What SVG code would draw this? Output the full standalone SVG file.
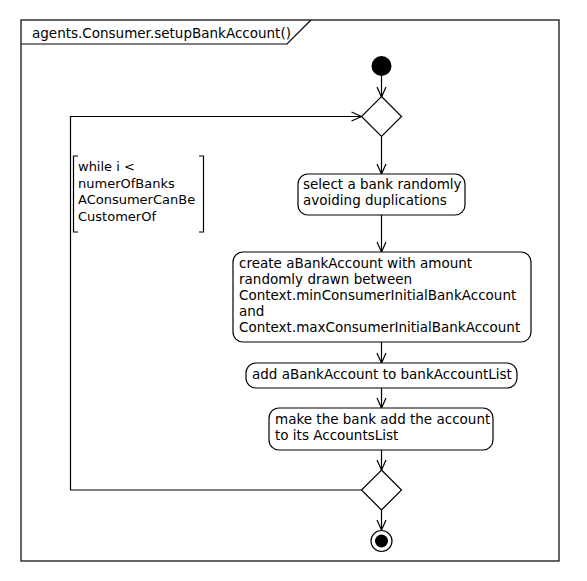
<svg xmlns="http://www.w3.org/2000/svg" width="587" height="581" viewBox="0 0 587 581">
<defs>
<style>
text{font-family:"DejaVu Sans","Liberation Sans",sans-serif;font-size:13.5px;fill:#000}
.g{font-size:13px}
.ln{fill:none;stroke:#000;stroke-width:1.2}
.box{fill:#fff;stroke:#000;stroke-width:1.2}
.edge{fill:none;stroke:#000;stroke-width:1.2;marker-end:url(#arr)}
</style>
<marker id="arr" markerUnits="userSpaceOnUse" markerWidth="12" markerHeight="12" refX="10" refY="5" orient="auto" overflow="visible">
<path d="M0,0.5 L10,5 L0,9.5" fill="none" stroke="#000" stroke-width="1.2"/>
</marker>
</defs>
<rect width="587" height="581" fill="#fff"/>
<g id="frame">
<rect class="ln" x="21" y="20" width="538" height="541"/>
<polyline class="ln" points="21,44 287,44 311,20"/>
<text x="32" y="38">agents.Consumer.setupBankAccount()</text>
</g>
<g id="connectors">
<line class="edge" x1="381.5" y1="76" x2="381.5" y2="97"/>
<line class="edge" x1="381.5" y1="137" x2="381.5" y2="174"/>
<line class="edge" x1="381.5" y1="215" x2="381.5" y2="252"/>
<line class="edge" x1="381.5" y1="342" x2="381.5" y2="363"/>
<line class="edge" x1="381.5" y1="388" x2="381.5" y2="408"/>
<line class="edge" x1="381.5" y1="450" x2="381.5" y2="470"/>
<line class="edge" x1="381.5" y1="510" x2="381.5" y2="530"/>
<polyline class="edge" points="361.5,490 70.5,490 70.5,116.5 361.5,116.5"/>
</g>
<g id="start">
<circle cx="381.5" cy="66" r="10" fill="#000"/>
</g>
<g id="decision1">
<polygon class="box" points="381.5,96.5 401.5,116.5 381.5,136.5 361.5,116.5"/>
</g>
<g id="guard">
<polyline class="ln" points="78,156 73.5,156 73.5,232 78,232"/>
<polyline class="ln" points="199,156 203.5,156 203.5,232 199,232"/>
<text class="g" x="78" y="171">while i &lt;</text>
<text class="g" x="78" y="187.5">numerOfBanks</text>
<text class="g" x="78" y="204">AConsumerCanBe</text>
<text class="g" x="78" y="220.5">CustomerOf</text>
</g>
<g id="selectBank">
<rect class="box" x="298" y="174" width="167" height="41" rx="10"/>
<text x="303" y="189">select a bank randomly</text>
<text x="303" y="205">avoiding duplications</text>
</g>
<g id="createAccount">
<rect class="box" x="233" y="252" width="298" height="90" rx="10"/>
<text x="239" y="268">create aBankAccount with amount</text>
<text x="239" y="284">randomly drawn between</text>
<text x="239" y="300">Context.minConsumerInitialBankAccount</text>
<text x="239" y="316">and</text>
<text x="239" y="332">Context.maxConsumerInitialBankAccount</text>
</g>
<g id="addAccount">
<rect class="box" x="246" y="363" width="271" height="25" rx="10"/>
<text x="252" y="378.5">add aBankAccount to bankAccountList</text>
</g>
<g id="bankAdd">
<rect class="box" x="269" y="408" width="224" height="42" rx="10"/>
<text x="275" y="424">make the bank add the account</text>
<text x="275" y="440">to its AccountsList</text>
</g>
<g id="decision2">
<polygon class="box" points="381.5,470 401.5,490 381.5,510 361.5,490"/>
</g>
<g id="end">
<circle cx="381.5" cy="541" r="10.5" fill="#fff" stroke="#000" stroke-width="1.2"/>
<circle cx="381.5" cy="541" r="6.5" fill="#000"/>
</g>
</svg>
